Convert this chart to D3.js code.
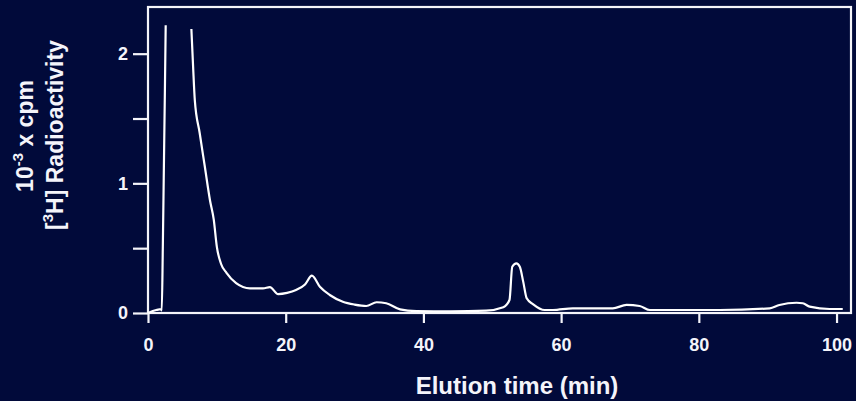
<!DOCTYPE html>
<html>
<head>
<meta charset="utf-8">
<script src="https://cdn.jsdelivr.net/npm/d3@7"></script>
<style>
  html, body { margin: 0; padding: 0; background: #010a3a; }
  svg { display: block; }
</style>
</head>
<body>
<div id="chart"></div>
<script>
// elution profile (null = off scale)
var elutionTime = [0, 1.2, 1.9, 2.0, 2.15, 2.3, 2.45, 2.57, 4.4,
    6.3, 6.55, 6.8, 7.5, 8.25, 9.0, 9.55, 10.0, 10.6, 11.4, 12.8, 14.8, 16.7, 17.7,
    18.9, 20.2, 21.5, 22.8, 23.8, 25.0, 26.4, 28.3, 30.0, 31.7, 33.2, 34.6, 36.6,
    39.0, 44.0, 49.1, 51.6, 52.5, 52.9, 53.5, 54.0, 54.5, 55.0, 55.9, 57.6, 58.8,
    61.7, 67.5, 69.5, 71.4, 72.9, 83.0, 90.3, 91.7, 94.2, 95.1, 96.1, 99.0, 100.9];
var radioactivity = [0, 0.023, 0.03, 0.02, 0.5, 1.1, 1.7, 2.22, null,
    2.19, 1.9, 1.64, 1.39, 1.13, 0.87, 0.72, 0.51, 0.38, 0.31, 0.23, 0.19, 0.19, 0.2,
    0.146, 0.155, 0.177, 0.22, 0.288, 0.2, 0.139, 0.087, 0.065, 0.054, 0.083, 0.075, 0.028,
    0.015, 0.012, 0.018, 0.044, 0.1, 0.357, 0.383, 0.357, 0.24, 0.113, 0.069, 0.023, 0.023,
    0.036, 0.036, 0.062, 0.054, 0.023, 0.023, 0.036, 0.062, 0.079, 0.075, 0.049, 0.031, 0.031];

var xTicks = [0, 20, 40, 60, 80, 100];
var yTicks = [0, 0.5, 1, 1.5, 2];
var yLabelTicks = [0, 1, 2];

var svgWidth = 856, svgHeight = 401;
var plotLeft = 148, plotRight = 851, plotTop = 7, plotBottom = 313;
var lineColour = "#f4f4fa";
var fontFamily = "'Liberation Sans', Arial, sans-serif";

var svg = d3.select("#chart").append("svg")
    .attr("width", svgWidth)
    .attr("height", svgHeight);

var x = d3.scaleLinear().domain([0, 102.1]).range([plotLeft, plotRight]);
var y = d3.scaleLinear().domain([0, 2.36]).range([plotBottom, plotTop]);

//frame
svg.append("rect")
    .attr("x", plotLeft)
    .attr("y", plotTop)
    .attr("width", plotRight - plotLeft)
    .attr("height", plotBottom - plotTop)
    .attr("fill", "none")
    .style("stroke", lineColour).style("stroke-width", 2.2);

//x-axis
var xAxis = svg.append("g")
    .attr("transform", "translate(0," + plotBottom + ")")
    .call(d3.axisBottom(x).tickValues(xTicks).tickSize(10).tickSizeOuter(0).tickPadding(15));

//y-axis
var yAxis = svg.append("g")
    .attr("transform", "translate(" + plotLeft + ",0)")
    .call(d3.axisLeft(y).tickValues(yTicks).tickSize(15).tickSizeOuter(0).tickPadding(5)
        .tickFormat(function(d) { return yLabelTicks.indexOf(d) >= 0 ? d : ""; }));

[xAxis, yAxis].forEach(function(ax) {
    ax.select(".domain").remove();
    ax.selectAll(".tick line").style("stroke", lineColour).style("stroke-width", 2.2);
    ax.selectAll(".tick text")
        .attr("fill", lineColour)
        .attr("font-family", fontFamily)
        .attr("font-size", 18)
        .attr("font-weight", "bold");
});

//curve
var idx = d3.range(elutionTime.length);
var line = d3.line()
    .defined(function(i) { return radioactivity[i] !== null; })
    .x(function(i) { return x(elutionTime[i]); })
    .y(function(i) { return y(radioactivity[i]); })
    .curve(d3.curveMonotoneX);

svg.append("path")
    .attr("d", line(idx))
    .attr("fill", "none")
    .style("stroke", "#ffffff").style("stroke-width", 2.2)
    .style("stroke-linejoin", "round");

//axis titles
svg.append("text")
    .text("Elution time (min)")
    .attr("x", 517)
    .attr("y", 394)
    .attr("text-anchor", "middle")
    .attr("font-family", fontFamily)
    .attr("font-size", 24)
    .attr("font-weight", "bold")
    .attr("fill", lineColour);

var yTitle1 = svg.append("text")
    .attr("transform", "translate(33,136) rotate(-90)")
    .attr("text-anchor", "middle")
    .attr("font-family", fontFamily)
    .attr("font-size", 23)
    .attr("font-weight", "bold")
    .attr("fill", lineColour);
yTitle1.append("tspan").text("10");
yTitle1.append("tspan").text("-3").attr("font-size", 15).attr("dy", -10);
yTitle1.append("tspan").text(" x cpm").attr("dy", 10);

var yTitle2 = svg.append("text")
    .attr("transform", "translate(63,135) rotate(-90)")
    .attr("text-anchor", "middle")
    .attr("font-family", fontFamily)
    .attr("font-size", 23)
    .attr("font-weight", "bold")
    .attr("fill", lineColour);
yTitle2.append("tspan").text("[");
yTitle2.append("tspan").text("3").attr("font-size", 15).attr("dy", -10);
yTitle2.append("tspan").text("H] Radioactivity").attr("dy", 10);
</script>
</body>
</html>
